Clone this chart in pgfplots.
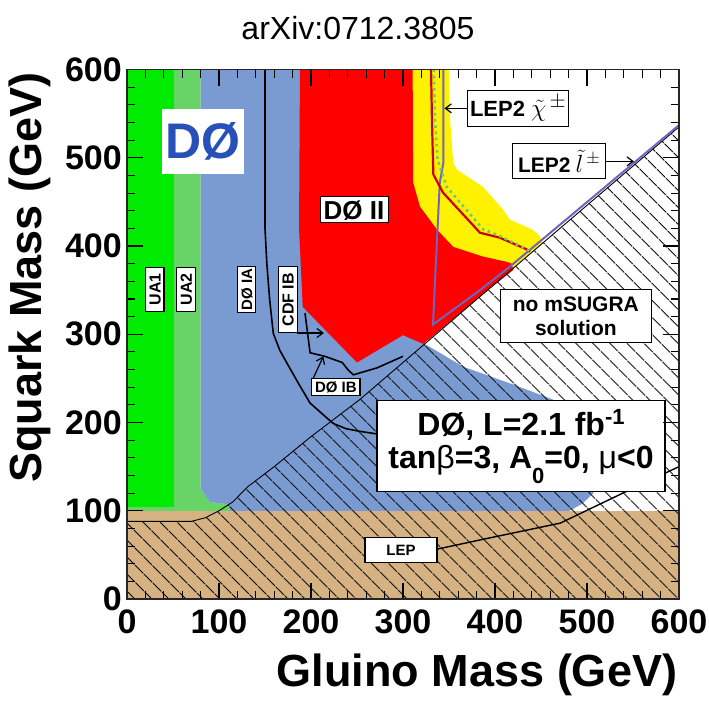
\documentclass[border=0pt]{standalone}
\usepackage{fontspec}
\setmainfont{Liberation Sans}
\usepackage{pgfplots}
\pgfplotsset{compat=1.18}
\usetikzlibrary{patterns.meta,arrows.meta}

\definecolor{uaone}{RGB}{0,235,0}
\definecolor{uatwo}{RGB}{104,212,104}
\definecolor{runone}{RGB}{122,154,210}
\definecolor{tanlep}{RGB}{214,178,130}
\definecolor{lepline}{RGB}{110,102,188}
\definecolor{expred}{RGB}{205,0,0}
\definecolor{expgreen}{RGB}{110,205,110}
\definecolor{dzeroblue}{RGB}{40,80,185}

\tikzset{
  lbl/.style={draw=black, line width=1.1pt, fill=white, font=\bfseries},
  vlbl/.style={lbl, rotate=90, font=\fontsize{16}{16}\selectfont\bfseries,
               text height=11.5pt, text depth=0pt, inner ysep=3.5pt, inner xsep=2pt},
  arr/.style={black, line width=1.2pt, -{Straight Barb[length=6pt,width=9pt]}}
}

\begin{document}
\begin{tikzpicture}
\path[use as bounding box] (-127pt,-103pt) rectangle (582pt,599pt);

\begin{axis}[
  at={(0,0)}, anchor=south west,
  width=552pt, height=529.5pt, scale only axis,
  xmin=0, xmax=600, ymin=0, ymax=600,
  xtick={0,100,...,600}, ytick={0,100,...,600},
  minor tick num=4,
  tick align=inside,
  major tick length=16pt, minor tick length=8pt,
  every tick/.style={black, line width=1.1pt},
  axis line style={black!85, line width=1.3pt},
  axis on top,
  /pgf/number format/assume math mode=true,
  tick label style={font=\fontsize{34}{34}\selectfont\bfseries, inner sep=0pt},
  xticklabel style={yshift=-11pt},
  yticklabel style={xshift=-5pt},
  clip=true,
]

% UA2 (light green) and UA1 (green) excluded regions
\addplot[fill=uatwo, draw=none] coordinates {
  (0,100) (0,104) (51,104) (51,600) (80,600) (80,125) (90,110) (112,107) (112,100)} -- cycle;
\addplot[fill=uaone, draw=none] coordinates {
  (0,104) (0,600) (51,600) (51,104)} -- cycle;

% Run I excluded region
\addplot[fill=runone, draw=none] coordinates {
  (80,600) (300,600) (310,500) (322,290) (366,263) (420,243) (463,226)
  (495,200) (510,165) (512,140) (507,120) (495,108) (481,100)
  (112,100) (112,107) (90,110) (80,125)} -- cycle;

% expected-limit band (yellow)
\addplot[fill=yellow, draw=none] coordinates {
  (300,600) (350,600) (351,547) (354.5,494.5) (358.6,486.6) (387,467)
  (409,441) (416,430) (441,418.5) (449,410.6) (452,403) (384,343) (300,400)} -- cycle;

% D0 Run II excluded region
\addplot[fill=red, draw=none] coordinates {
  (188,600) (310.5,600) (311,472) (318.5,444.6) (337,418.5) (354.6,399)
  (387,388) (413,382) (418,380) (420,373) (384,343) (322,289) (300,299)
  (250,268) (191,331) (187,420)} -- cycle;

% LEP excluded band
\addplot[fill=tanlep, draw=none] coordinates {
  (0,0) (0,100) (600,100) (600,0)} -- cycle;

% no mSUGRA solution (hatched)
\addplot[draw=black, line width=0.9pt,
  pattern={Lines[angle=-45,distance=13pt,line width=1.1pt]}] coordinates {
  (0,0) (0,88) (70,88) (85,92) (100,100) (115,110) (131,127) (160,150)
  (200,184) (253,226) (300,268) (384,343) (600,535) (600,0)} -- cycle;

% LEP2 chargino and slepton limits
\addplot[lepline, line width=2pt] coordinates {
  (344,600) (344,495) (340,472) (335,365) (332.6,311) (383.7,350) (416,376.5) (600,537)};

% expected limit and its green dotted companion
\addplot[expred, line width=2.2pt] coordinates {
  (330.5,600) (331.5,540) (333,481) (343.5,460.5) (383.7,415) (405,409.5) (434.8,396) (438,393.6)};
\addplot[expgreen, line width=2.6pt, dash pattern=on 2.6pt off 3.6pt] coordinates {
  (333.5,600) (335,540) (337.5,498) (347.5,467) (387,419) (405,411.5) (430,398.5) (438,394.5)};

% D0 IA limit
\addplot[black, line width=1.6pt] coordinates {
  (150,600) (150,420) (152,380) (155,340) (159,301) (166,282) (174,267)
  (186,245) (199,222) (212,210) (224,199) (238,193) (253,190) (272,187) (285,186)};

% D0 IB limit
\addplot[black, line width=1.6pt] coordinates {
  (193.5,324) (199,279) (215,275) (234,268) (240,260) (246,254) (272,262) (300,275)};

% LEP limit
\addplot[black, line width=1.4pt] coordinates {
  (335,56) (384,67) (471,86) (547,124) (600,150)};

% arrows
\draw[arr] (184.5,301.4) -- (214,301.4);
\draw[arr] (202.5,250.3) -- (213.4,274.8);
\draw[arr] (370,556) -- (345,556);
\draw[arr] (520.3,495.9) -- (551,495.9);

% labels
\node[vlbl, minimum width=44pt] at (30.2,350.8) {UA1};
\node[vlbl, minimum width=44pt] at (64.3,350.8) {UA2};
\node[vlbl, minimum width=44pt, font=\fontsize{15}{15}\selectfont\bfseries] at (129.7,350.8) {DØ IA};
\node[vlbl, minimum width=66pt] at (174.8,339) {CDF IB};
\node[lbl, font=\fontsize{15}{15}\selectfont\bfseries, text height=11pt, text depth=0pt,
      inner ysep=3pt, minimum width=48pt] at (227,240.4) {DØ IB};
\node[lbl, font=\fontsize{26}{26}\selectfont\bfseries, text height=19pt, text depth=0pt,
      inner xsep=2pt, inner ysep=3.5pt, minimum width=68pt] at (246.8,441.3) {DØ II};
\node[lbl, font=\fontsize{22}{22}\selectfont\bfseries, minimum width=101pt, minimum height=36pt,
      inner sep=2pt] at (425.2,556.1)
  {LEP2\hspace{6pt}{\fontsize{29}{29}\selectfont$\tilde{\chi}^{\,\pm}$}};
\node[lbl, font=\fontsize{21}{21}\selectfont\bfseries, minimum width=93pt, minimum height=35pt,
      inner sep=2pt] at (469.8,495.9)
  {LEP2\hspace{5pt}{\fontsize{26}{26}\selectfont$\tilde{l}^{\,\pm}$}};
\node[lbl, font=\fontsize{21}{24}\selectfont\bfseries, align=center, minimum width=151pt,
      minimum height=53pt, inner sep=2pt] at (487.9,320.2) {no mSUGRA\\solution};
\node[lbl, font=\fontsize{15}{15}\selectfont\bfseries, minimum width=72pt, minimum height=25pt,
      inner sep=2pt] at (297.8,55.6) {LEP};
\node[lbl, font=\fontsize{32}{35}\selectfont\bfseries, align=center, minimum width=288pt,
      minimum height=91pt, inner sep=2pt] at (428.3,173)
  {DØ, L=2.1 fb\raisebox{11pt}{\fontsize{22}{22}\selectfont -1}\\[-2pt]
   tan{\mdseries β}=3, A\raisebox{-15pt}{\fontsize{22}{22}\selectfont 0}=0, {\mdseries μ}<0};

% experiment logo
\node[fill=white, minimum width=82pt, minimum height=65pt, inner sep=0pt,
      font=\fontsize{50}{50}\selectfont\bfseries, text=dzeroblue] at (82.6,518) {DØ};
\end{axis}

\node[font=\fontsize{32}{32}\selectfont] at (231pt,571pt) {arXiv:0712.3805};
\node[font=\fontsize{45}{45}\selectfont\bfseries] at (350pt,-76pt) {Gluino Mass (GeV)};
\node[font=\fontsize{45}{45}\selectfont\bfseries, rotate=90] at (-97pt,321.5pt) {Squark Mass (GeV)};
\end{tikzpicture}
\end{document}
